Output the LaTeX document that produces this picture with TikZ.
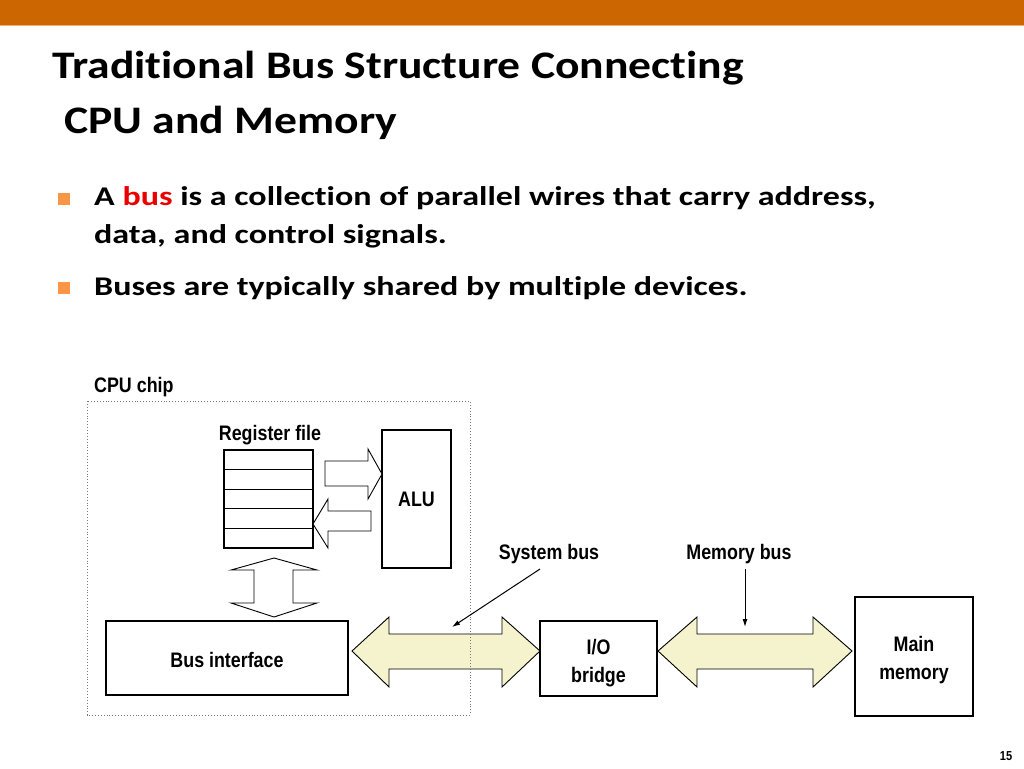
\documentclass[tikz,border=0pt]{standalone}
\usepackage{fontspec}
\setmainfont{Carlito}
\newfontfamily\titlefont{Carlito}[FakeStretch=1.17,Ligatures=NoCommon]
\newfontfamily\bulletfont{Carlito}[FakeStretch=1.26,Ligatures=NoCommon]
\newfontfamily\lbl{Liberation Sans}[FakeStretch=0.85]
\usetikzlibrary{arrows.meta}
\definecolor{topbar}{RGB}{204,102,0}
\definecolor{topline}{RGB}{240,170,110}
\definecolor{bulletc}{RGB}{247,150,70}
\definecolor{busfill}{RGB}{245,243,205}
\definecolor{busred}{RGB}{235,0,0}
\definecolor{dotgray}{RGB}{120,120,120}
\begin{document}
\begin{tikzpicture}[x=1pt,y=-1pt,
  box/.style={draw,line width=1.1pt,inner sep=0pt,fill=white},
  regrow/.style={draw,line width=1.1pt,inner sep=0pt,minimum width=89pt,minimum height=19.6pt},
  lab/.style={font=\lbl\bfseries\fontsize{21}{24}\selectfont,inner sep=0pt,align=center},
  lab2/.style={font=\lbl\bfseries\fontsize{21}{28}\selectfont,inner sep=0pt,align=center},
  ttl/.style={anchor=base west,inner sep=0pt,font=\titlefont\bfseries\fontsize{39}{46}\selectfont},
  btx/.style={anchor=base west,inner sep=0pt,font=\bulletfont\bfseries\fontsize{27}{32}\selectfont},
  outarrow/.style={draw,line width=0.9pt,fill=white},
  busarrow/.style={draw,line width=0.9pt,fill=busfill},
  ptr/.style={line width=1pt,-{Latex[length=8pt,width=5pt]}},
  bul/.style={fill=bulletc}]
\useasboundingbox (0,0) rectangle (1024,768);
\fill[white] (0,0) rectangle (1024,768);
% top bar
\fill[topbar] (0,0) rectangle (1024,25);
\fill[topline] (0,25) rectangle (1024,26.5);
% title
\node[ttl] (t1) at (52,78) {Traditional Bus Structure Connecting};
\node[ttl] (t2) at (64,133) {CPU and Memory};
% bullets
\fill[bul] (58,193) rectangle (70,205);
\fill[bul] (58,282) rectangle (70,294);
\node[btx] (b1) at (94,205) {A \textcolor{busred}{bus} is a collection of parallel wires that carry address,};
\node[btx] (b2) at (94,243) {data, and control signals.};
\node[btx] (b3) at (94,295) {Buses are typically shared by multiple devices.};
% CPU chip label
\node[lab,anchor=base west] (cpulab) at (94,392) {CPU chip};
% register file
\node[lab,anchor=base] (reglab) at (270,440) {Register file};
\foreach \i in {1,...,5}{
  \node[regrow] (r\i) at (268.5,{450+19.6*(\i-0.5)}) {};
}
% ALU
\node[box,minimum width=69pt,minimum height=138pt] (alu) at (416.5,499) {};
\node[lab] at (alu.center) {ALU};
% reg -> ALU arrow
\draw[outarrow] (325,461) -- (368,461) -- (368,449) -- (382,474) -- (368,499) -- (368,486) -- (325,486) -- cycle;
% ALU -> reg arrow
\draw[outarrow] (371,511) -- (328,511) -- (328,499) -- (313,524) -- (328,548) -- (328,531) -- (371,531) -- cycle;
% vertical double arrow
\draw[outarrow] (274,558) -- (317,570) -- (293,570) -- (293,603) -- (317,603) -- (274,617) -- (231,603) -- (254,603) -- (254,570) -- (231,570) -- cycle;
% bus interface
\node[box,minimum width=242pt,minimum height=74pt] (busif) at (227,658) {};
\node[lab] at ([yshift=-2pt]busif.center) {Bus interface};
% system bus
\draw[busarrow] (352,651) -- (389,617) -- (389,634) -- (502,634) -- (502,617) -- (540,651) -- (502,687) -- (502,669) -- (389,669) -- (389,687) -- cycle;
% memory bus
\draw[busarrow] (658,651) -- (697,617) -- (697,634) -- (813,634) -- (813,617) -- (852,651) -- (813,687) -- (813,669) -- (697,669) -- (697,687) -- cycle;
% I/O bridge
\node[box,minimum width=117pt,minimum height=75pt] (iob) at (598.5,658.5) {};
\node[lab2] at ([yshift=-4.5pt]iob.center) {I/O\\bridge};
% main memory
\node[box,minimum width=118pt,minimum height=119pt] (mem) at (914,656.5) {};
\node[lab2] at ([yshift=-3.5pt]mem.center) {Main\\memory};
% dotted chip outline
\draw[dotted,dotgray,line width=0.9pt] (87,401) rectangle (470,715);
% labels with pointers
\node[lab,anchor=base] (sysbus) at (549,559) {System bus};
\node[lab,anchor=base] (membus) at (739,559) {Memory bus};
\coordinate (sysptr) at (452,627);
\coordinate (memptr) at (745,627);
\draw[ptr] (540,569) -- (sysptr);
\draw[ptr] (745,569) -- (memptr);
% page number
\node[anchor=base,inner sep=0pt,font=\lbl\bfseries\fontsize{13}{15}\selectfont] (pg) at (1006,760) {15};
\end{tikzpicture}
\end{document}
